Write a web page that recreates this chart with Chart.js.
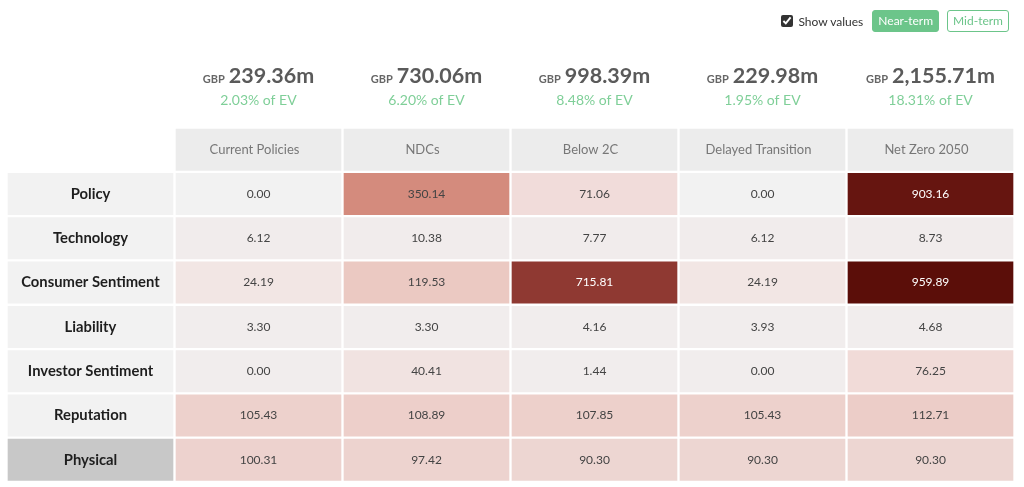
<!DOCTYPE html>
<html>
<head>
<meta charset="utf-8">
<script src="https://cdn.jsdelivr.net/npm/chart.js@4/dist/chart.umd.min.js"></script>
<style>
    body { margin: 0; background: #fff; font-family: Lato, sans-serif; }
    #wrap { position: relative; width: 1024px; height: 487px; }
    #controls { position: absolute; top: 10px; right: 15px; display: flex; align-items: center; font-size: 12px; color: #333; }
    #controls label { display: flex; align-items: center; margin-right: 1px; }
    #controls input { width: 12px; height: 12px; margin: 0 5px 0 0; accent-color: #333; }
    .btn { font-size: 12px; padding: 3px 5px 4px; border-radius: 3px; border: 1px solid #6cc58a; margin-left: 8px; line-height: 13px; }
    .btn.on { background: #6cc58a; color: #fff; }
    .btn.off { background: #fff; color: #6cc58a; }
</style>
</head>
<body>
<div id="wrap">
    <canvas id="myChart" width="1024" height="487"></canvas>
    <div id="controls">
        <label><input type="checkbox" checked>Show values</label>
        <span class="btn on">Near-term</span>
        <span class="btn off">Mid-term</span>
    </div>
</div>
<script>
const scenarios = ['Current Policies', 'NDCs', 'Below 2C', 'Delayed Transition', 'Net Zero 2050'];
const risks = ['Policy', 'Technology', 'Consumer Sentiment', 'Liability', 'Investor Sentiment', 'Reputation', 'Physical'];

// GBP millions per scenario and share of EV (%)
const totals = [239.36, 730.06, 998.39, 229.98, 2155.71];
const evShare = [2.03, 6.20, 8.48, 1.95, 18.31];

// one array per scenario, in the order of risks (null = no policy data, shown as 0.00)
const currentPolicies = [null, 6.12, 24.19, 3.30, 0.00, 105.43, 100.31];
const ndcs = [350.14, 10.38, 119.53, 3.30, 40.41, 108.89, 97.42];
const below2c = [71.06, 7.77, 715.81, 4.16, 1.44, 107.85, 90.30];
const delayedTransition = [null, 6.12, 24.19, 3.93, 0.00, 105.43, 90.30];
const netZero2050 = [903.16, 8.73, 959.89, 4.68, 76.25, 112.71, 90.30];

const columns = [currentPolicies, ndcs, below2c, delayedTransition, netZero2050];

// colour scale for cell values
const stops = [
    [0, [241, 237, 237]],
    [10, [241, 236, 236]],
    [25, [242, 230, 228]],
    [40, [241, 227, 225]],
    [75, [241, 219, 217]],
    [90, [237, 214, 210]],
    [110, [237, 207, 202]],
    [120, [235, 201, 194]],
    [350, [212, 139, 125]],
    [716, [143, 57, 50]],
    [903, [102, 21, 16]],
    [960, [91, 14, 9]],
];

function heatColor(v) {
    if (v === null) return '#f2f2f2';
    for (let i = 1; i < stops.length; i++) {
        if (v <= stops[i][0]) {
            let a = stops[i - 1], b = stops[i];
            let t = (v - a[0]) / (b[0] - a[0]);
            let c = a[1].map((x, k) => Math.round(x + (b[1][k] - x) * t));
            return 'rgb(' + c.join(',') + ')';
        }
    }
    return 'rgb(' + stops[stops.length - 1][1].join(',') + ')';
}

const colLabels = [''].concat(scenarios);

let datasets = [];
// header row
datasets.push({
    kind: 'header',
    data: colLabels.map((l, c) => c == 0 ? null : [0, 1]),
    backgroundColor: colLabels.map(() => '#ececec'),
});
// risk rows
for (let r = 0; r < risks.length; r++) {
    let values = columns.map(col => col[r]);
    datasets.push({
        kind: 'risk',
        risk: risks[r],
        values: values,
        data: colLabels.map(() => [r + 1, r + 2]),
        backgroundColor: colLabels.map((l, c) => {
            if (c == 0) return risks[r] == 'Physical' ? '#c8c8c8' : '#f2f2f2';
            return heatColor(values[c - 1]);
        }),
    });
}

const cellText = {
    id: 'cellText',
    afterDatasetsDraw(chart) {
        const ctx = chart.ctx;
        const xs = chart.scales.x, ys = chart.scales.y;
        ctx.save();
        ctx.textAlign = 'center';
        ctx.textBaseline = 'middle';
        chart.data.datasets.forEach((ds, i) => {
            chart.getDatasetMeta(i).data.forEach((bar, c) => {
                if (ds.data[c] === null) return;
                let cy = (bar.y + bar.base) / 2;
                if (ds.kind == 'header') {
                    ctx.font = '13px Lato';
                    ctx.fillStyle = '#777';
                    ctx.fillText(colLabels[c], bar.x - 4, cy);
                } else if (c == 0) {
                    ctx.font = 'bold 14.8px Lato';
                    ctx.fillStyle = '#1e1e1e';
                    ctx.fillText(ds.risk, bar.x, cy);
                } else {
                    let v = ds.values[c - 1];
                    ctx.font = '12px Lato';
                    ctx.fillStyle = (v || 0) > 500 ? '#fff' : '#444';
                    ctx.fillText((v || 0).toFixed(2), bar.x, cy);
                }
            });
        });

        // scenario totals above the header row
        let top = ys.getPixelForValue(0);
        for (let s = 0; s < scenarios.length; s++) {
            let x = xs.getPixelForValue(s + 1);
            let num = totals[s].toLocaleString('en-GB', { minimumFractionDigits: 2 }) + 'm';
            ctx.font = 'bold 11px Lato';
            let w1 = ctx.measureText('GBP').width + 4;
            ctx.font = 'bold 21.5px Lato';
            let w2 = ctx.measureText(num).width;
            let x0 = x - (w1 + w2) / 2;
            ctx.textAlign = 'left';
            ctx.textBaseline = 'alphabetic';
            ctx.fillStyle = '#666';
            ctx.font = 'bold 11px Lato';
            ctx.fillText('GBP', x0, top - 45);
            ctx.fillStyle = '#5a5a5a';
            ctx.font = 'bold 21.5px Lato';
            ctx.fillText(num, x0 + w1, top - 45);
            ctx.textAlign = 'center';
            ctx.font = '14px Lato';
            ctx.fillStyle = '#7fcf98';
            ctx.fillText(evShare[s].toFixed(2) + '% of EV', x, top - 23);
        }
        ctx.restore();
    }
};

const config = {
    type: 'bar',
    data: {
        labels: colLabels,
        datasets: datasets
    },
    options: {
        responsive: false,
        animation: false,
        layout: { padding: { top: 127.5, bottom: 5, left: 6.5, right: 9.5 } },
        datasets: {
            bar: {
                barPercentage: 1,
                categoryPercentage: 1,
                borderColor: '#fff',
                borderWidth: 1.5,
                borderSkipped: false,
            }
        },
        scales: {
            x: { display: false, stacked: true },
            y: { display: false, min: 0, max: 8, reverse: true }
        },
        plugins: {
            legend: { display: false },
            tooltip: { enabled: false }
        }
    },
    plugins: [cellText]
};

const myChart = new Chart(document.getElementById('myChart'), config);
</script>
</body>
</html>
